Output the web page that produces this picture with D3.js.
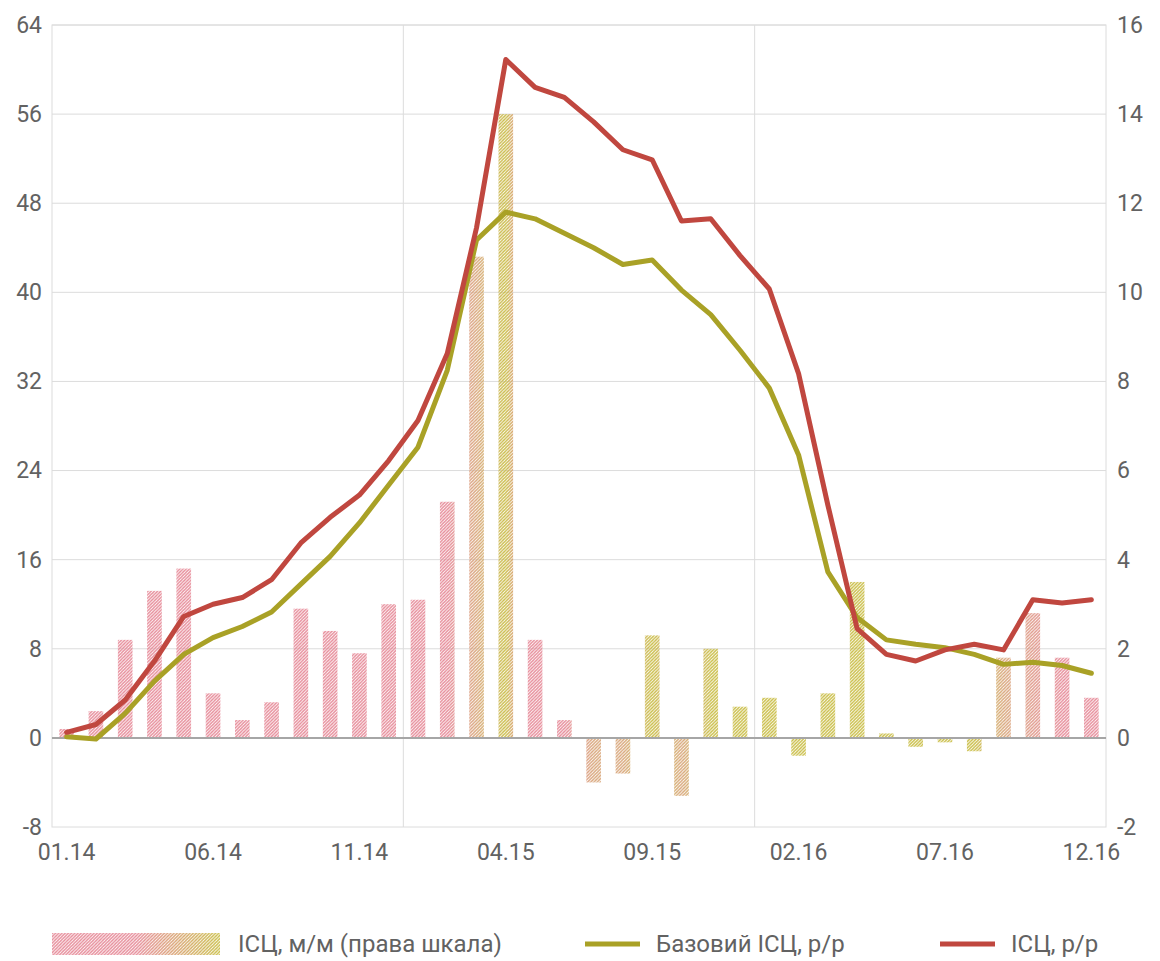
<!DOCTYPE html>
<html>
<head>
<meta charset="utf-8">
<script src="https://cdn.jsdelivr.net/npm/d3@7"></script>
<style>
  html, body { margin: 0; padding: 0; background: #ffffff; }
  svg { display: block; }
  text { font-family: Roboto, "Open Sans", sans-serif; fill: #626262; }
</style>
</head>
<body>
<svg id="chart" width="1160" height="961"></svg>
<script>
// ---------------- data ----------------
const categories = [
  "01.14","02.14","03.14","04.14","05.14","06.14","07.14","08.14","09.14","10.14","11.14","12.14",
  "01.15","02.15","03.15","04.15","05.15","06.15","07.15","08.15","09.15","10.15","11.15","12.15",
  "01.16","02.16","03.16","04.16","05.16","06.16","07.16","08.16","09.16","10.16","11.16","12.16"
];
// ІСЦ, м/м (права шкала)
const cpiMoM = [
  0.2, 0.6, 2.2, 3.3, 3.8, 1.0, 0.4, 0.8, 2.9, 2.4, 1.9, 3.0,
  3.1, 5.3, 10.8, 14.0, 2.2, 0.4, -1.0, -0.8, 2.3, -1.3, 2.0, 0.7,
  0.9, -0.4, 1.0, 3.5, 0.1, -0.2, -0.1, -0.3, 1.8, 2.8, 1.8, 0.9
];
// Базовий ІСЦ, р/р
const coreYoY = [
  0.1, -0.1, 2.2, 5.1, 7.5, 9.0, 10.0, 11.3, 13.8, 16.3, 19.3, 22.7,
  26.1, 33.0, 44.7, 47.2, 46.6, 45.3, 44.0, 42.5, 42.9, 40.2, 38.0, 34.8,
  31.4, 25.4, 14.9, 10.8, 8.8, 8.4, 8.1, 7.5, 6.6, 6.8, 6.5, 5.8
];
// ІСЦ, р/р
const cpiYoY = [
  0.5, 1.2, 3.4, 6.9, 10.9, 12.0, 12.6, 14.2, 17.5, 19.8, 21.8, 24.9,
  28.5, 34.5, 45.8, 60.9, 58.4, 57.5, 55.3, 52.8, 51.9, 46.4, 46.6, 43.3,
  40.3, 32.7, 20.9, 9.8, 7.5, 6.9, 7.9, 8.4, 7.9, 12.4, 12.1, 12.4
];
const leftTicks = [-8, 0, 8, 16, 24, 32, 40, 48, 56, 64];
const rightTicks = [-2, 0, 2, 4, 6, 8, 10, 12, 14, 16];
const xTickLabels = ["01.14","06.14","11.14","04.15","09.15","02.16","07.16","12.16"];
const gridCategories = ["01.15","01.16"];
const legendLabels = ["ІСЦ, м/м (права шкала)", "Базовий ІСЦ, р/р", "ІСЦ, р/р"];

// ---------------- layout ----------------
const plot = { left: 52, right: 1106, top: 25, bottom: 827 };
const colors = {
  red: "#c0473f",
  olive: "#a9a126",
  pink: "#e68a98",
  olivePale: "#c9bd45",
  tan: "#d8a67a",
  grid: "#dcdcdc",
  zero: "#a6a6a6"
};
const fontAxis = 23;
const fontLegend = 24;

const svg = d3.select("#chart");
const defs = svg.append("defs");

const x = d3.scaleBand()
  .domain(categories)
  .range([plot.left, plot.right])
  .paddingInner(0.5)
  .paddingOuter(0.25);
const step = x.step();
const xc = c => x(c) + x.bandwidth() / 2;

const yL = d3.scaleLinear().domain([-8, 64]).range([plot.bottom, plot.top]);
const yR = d3.scaleLinear().domain([-2, 16]).range([plot.bottom, plot.top]);

// ---------- hatch mask + color gradient ----------
const hatch = defs.append("pattern")
  .attr("id", "hatch")
  .attr("patternUnits", "userSpaceOnUse")
  .attr("width", 3.2).attr("height", 3.2);
hatch.append("rect").attr("width", 3.2).attr("height", 3.2).attr("fill", "#000");
hatch.append("path")
  .attr("d", "M-1,4.2 L4.2,-1 M-1,1 L1,-1 M2.2,4.2 L4.2,2.2")
  .attr("stroke", "#fff").attr("stroke-width", 1.35);

const mask = defs.append("mask")
  .attr("id", "hatchMask")
  .attr("maskUnits", "userSpaceOnUse")
  .attr("x", 0).attr("y", 0).attr("width", 1160).attr("height", 961);
mask.append("rect").attr("x", 0).attr("y", 0).attr("width", 1160).attr("height", 961)
  .attr("fill", "url(#hatch)");

const grad = defs.append("linearGradient")
  .attr("id", "barGrad")
  .attr("gradientUnits", "userSpaceOnUse")
  .attr("x1", plot.left).attr("x2", plot.right).attr("y1", 0).attr("y2", 0);
const fx = c => (xc(c) - plot.left) / (plot.right - plot.left);
[
  [0, colors.pink],
  [fx("02.15"), colors.pink],
  [fx("03.15"), colors.tan],
  [fx("04.15"), colors.olivePale],
  [(fx("04.15") + fx("05.15")) / 2, colors.pink],
  [fx("06.15"), colors.pink],
  [fx("07.15"), colors.tan],
  [fx("08.15"), colors.tan],
  [fx("09.15"), colors.olivePale],
  [fx("10.15"), colors.tan],
  [fx("11.15"), colors.olivePale],
  [fx("08.16"), colors.olivePale],
  [fx("09.16"), colors.tan],
  [fx("11.16"), colors.pink],
  [1, colors.pink]
].forEach(([o, c]) => grad.append("stop").attr("offset", o).attr("stop-color", c));

const legGrad = defs.append("linearGradient").attr("id", "legGrad");
legGrad.append("stop").attr("offset", 0).attr("stop-color", colors.pink);
legGrad.append("stop").attr("offset", 0.5).attr("stop-color", colors.pink);
legGrad.append("stop").attr("offset", 1).attr("stop-color", colors.olivePale);

// ---------------- grid ----------------
const grid = svg.append("g");
grid.selectAll("line.h")
  .data(leftTicks.filter(d => d !== 0 && d !== -8))
  .join("line")
  .attr("x1", plot.left).attr("x2", plot.right)
  .attr("y1", d => yL(d)).attr("y2", d => yL(d))
  .attr("stroke", colors.grid).attr("stroke-width", 1);
grid.selectAll("line.v")
  .data(gridCategories)
  .join("line")
  .attr("x1", d => x(d) - step * 0.25).attr("x2", d => x(d) - step * 0.25)
  .attr("y1", plot.top).attr("y2", plot.bottom)
  .attr("stroke", colors.grid).attr("stroke-width", 1);
grid.append("rect")
  .attr("x", plot.left).attr("y", plot.top)
  .attr("width", plot.right - plot.left).attr("height", plot.bottom - plot.top)
  .attr("fill", "none").attr("stroke", colors.grid).attr("stroke-width", 1);

// ---------------- bars ----------------
const bars = svg.append("g").attr("mask", "url(#hatchMask)");
bars.selectAll("rect")
  .data(categories.map((c, i) => ({ c, v: cpiMoM[i] })))
  .join("rect")
  .attr("x", d => x(d.c))
  .attr("width", x.bandwidth())
  .attr("y", d => yR(Math.max(0, d.v)))
  .attr("height", d => Math.abs(yR(d.v) - yR(0)))
  .attr("fill", "url(#barGrad)");

// zero line
svg.append("line")
  .attr("x1", plot.left).attr("x2", plot.right)
  .attr("y1", yL(0)).attr("y2", yL(0))
  .attr("stroke", colors.zero).attr("stroke-width", 2);

// ---------------- lines ----------------
const lineL = d3.line().x((d, i) => xc(categories[i])).y(d => yL(d));
svg.append("path").datum(coreYoY)
  .attr("d", lineL).attr("fill", "none")
  .attr("stroke", colors.olive).attr("stroke-width", 5)
  .attr("stroke-linejoin", "round").attr("stroke-linecap", "round");
svg.append("path").datum(cpiYoY)
  .attr("d", lineL).attr("fill", "none")
  .attr("stroke", colors.red).attr("stroke-width", 5)
  .attr("stroke-linejoin", "round").attr("stroke-linecap", "round");

// ---------------- axes ----------------
const styleAxis = g => {
  g.select(".domain").remove();
  g.selectAll("text").attr("font-size", fontAxis).attr("fill", "#626262")
    .attr("font-family", "Roboto, 'Open Sans', sans-serif");
};
const fmt = d => String(d);
svg.append("g")
  .attr("transform", `translate(${plot.left},0)`)
  .call(d3.axisLeft(yL).tickValues(leftTicks).tickSize(0).tickPadding(10).tickFormat(fmt))
  .call(styleAxis);
svg.append("g")
  .attr("transform", `translate(${plot.right},0)`)
  .call(d3.axisRight(yR).tickValues(rightTicks).tickSize(0).tickPadding(11).tickFormat(fmt))
  .call(styleAxis);
svg.append("g")
  .attr("transform", `translate(0,${plot.bottom})`)
  .call(d3.axisBottom(x).tickValues(xTickLabels).tickSize(0).tickPadding(17))
  .call(styleAxis);

// ---------------- legend ----------------
const leg = svg.append("g");
const legY = 944;
leg.append("rect")
  .attr("x", 52).attr("y", legY - 11).attr("width", 168).attr("height", 22)
  .attr("fill", "url(#legGrad)").attr("mask", "url(#hatchMask)");
leg.append("text").attr("x", 238).attr("y", legY).attr("dy", "0.35em")
  .attr("font-size", fontLegend).text(legendLabels[0]);
leg.append("line").attr("x1", 585).attr("x2", 640).attr("y1", legY).attr("y2", legY)
  .attr("stroke", colors.olive).attr("stroke-width", 5);
leg.append("text").attr("x", 656).attr("y", legY).attr("dy", "0.35em")
  .attr("font-size", fontLegend).text(legendLabels[1]);
leg.append("line").attr("x1", 940).attr("x2", 995).attr("y1", legY).attr("y2", legY)
  .attr("stroke", colors.red).attr("stroke-width", 5);
leg.append("text").attr("x", 1011).attr("y", legY).attr("dy", "0.35em")
  .attr("font-size", fontLegend).text(legendLabels[2]);
</script>
</body>
</html>
